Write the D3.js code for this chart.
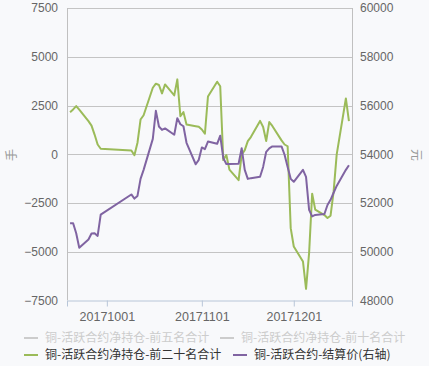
<!DOCTYPE html>
<html lang="zh">
<head>
  <meta charset="UTF-8">
  <title>铜-活跃合约净持仓</title>
  <script src="https://cdnjs.cloudflare.com/ajax/libs/d3/7.8.5/d3.min.js"></script>
  <style>
    body { margin: 0; background: #f8f9fb; }
    svg { display: block; font-family: "Noto Sans", "Noto Sans CJK SC", sans-serif; }
    .tick text { fill: #666; font-size: 12px; }
    .legend text { font-size: 12px; font-family: "Noto Sans CJK SC", sans-serif; }
  </style>
</head>
<body>
  <svg width="429" height="366"></svg>
  <script>
    // 交易日
    var dates = [
      '20170919','20170920','20170921','20170922','20170925','20170926','20170927','20170928','20170929',
      '20171009','20171010','20171011','20171012','20171013','20171016','20171017','20171018','20171019','20171020',
      '20171023','20171024','20171025','20171026','20171027','20171030','20171031',
      '20171101','20171102','20171103','20171106','20171107','20171108','20171109','20171110',
      '20171113','20171114','20171115','20171116','20171117','20171120','20171121','20171122','20171123','20171124',
      '20171127','20171128','20171129','20171130',
      '20171201','20171204','20171205','20171206','20171207','20171208','20171211','20171212','20171213','20171214',
      '20171215','20171218','20171219'
    ]

    // 前二十名净持仓 (手)
    var top20 = [
      2160, 2300, 2470, 2290, 1700, 1470, 1010, 500, 280,
      190, -50, 590, 1780, 2000, 3410, 3620, 3550, 3120, 3580,
      3020, 3840, 1950, 2160, 1530, 1440, 1410,
      1270, 1050, 2960, 3720, 3490, -300, -40, -790,
      -1330, -20, 210, 670, 880, 1710, 1400, 680, 1650, 1450,
      710, 500, 410, -3790,
      -4730, -5500, -6900, -5070, -2020, -2840, -3120, -3270, -3150, -1920,
      -20, 2860, 1700
    ]

    // 结算价 (元, 右轴)
    var settle = [
      51170, 51170, 50760, 50160, 50500, 50750, 50760, 50650, 51520,
      52350, 52180, 52290, 52990, 53360, 54630, 55780, 55140, 55000, 55060,
      54800, 55480, 55230, 55150, 54470, 53590, 53770,
      54280, 54210, 54520, 54430, 54760, 53840, 53600, 53600,
      53610, 54250, 53360, 52990, 53020, 53080, 53480, 54100, 54240, 54320,
      54320, 53980, 53480, 52990,
      52870, 53360, 53070, 51720, 51450, 51510, 51550, 51920, 52130, 52420,
      52700, 53360, 53550
    ]

    var leftTicks = [-7500, -5000, -2500, 0, 2500, 5000, 7500]
    var rightTicks = [48000, 50000, 52000, 54000, 56000, 58000, 60000]
    var xTicks = ['20171001', '20171101', '20171201']

    var legendItems = [
      { name: '铜-活跃合约净持仓-前五名合计', color: '#cccccc', text: '#cccccc' },
      { name: '铜-活跃合约净持仓-前十名合计', color: '#cccccc', text: '#cccccc' },
      { name: '铜-活跃合约净持仓-前二十名合计', color: '#9bbb59', text: '#333333' },
      { name: '铜-活跃合约-结算价(右轴)', color: '#8064a2', text: '#333333' }
    ]

    var parse = d3.timeParse('%Y%m%d')
    var svg = d3.select('svg')
    var plotL = 67, plotR = 352, plotT = 8, plotB = 300.5

    var x = d3.scaleTime()
      .domain([parse('20170918'), parse('20171220')])
      .range([plotL, plotR])
    var yL = d3.scaleLinear().domain([-7500, 7500]).range([plotB, plotT])
    var yR = d3.scaleLinear().domain([48000, 60000]).range([plotB, plotT])

    // 网格线
    svg.append('g')
      .selectAll('line')
      .data(leftTicks.slice(1))
      .join('line')
      .attr('x1', plotL).attr('x2', plotR)
      .attr('y1', d => Math.round(yL(d)) + 0.5).attr('y2', d => Math.round(yL(d)) + 0.5)
      .attr('stroke', '#c4c4c4')
      .attr('stroke-width', 1)

    // 左右轴线
    svg.append('line').attr('x1', plotL + 0.5).attr('x2', plotL + 0.5).attr('y1', plotT).attr('y2', plotB)
      .attr('stroke', '#c0c0c0')
    svg.append('line').attr('x1', plotR + 0.5).attr('x2', plotR + 0.5).attr('y1', plotT).attr('y2', plotB)
      .attr('stroke', '#c0c0c0')

    // 左轴
    var gL = svg.append('g')
      .attr('transform', `translate(${plotL},0)`)
      .call(d3.axisLeft(yL).tickValues(leftTicks).tickSize(0).tickPadding(9).tickFormat(d3.format('d')))
    gL.select('.domain').remove()

    // 右轴
    var gR = svg.append('g')
      .attr('transform', `translate(${plotR},0)`)
      .call(d3.axisRight(yR).tickValues(rightTicks).tickSize(0).tickPadding(8).tickFormat(d3.format('d')))
    gR.select('.domain').remove()

    // x 轴
    var gX = svg.append('g')
      .attr('transform', `translate(0,${plotB})`)
      .call(d3.axisBottom(x).tickValues(xTicks.map(parse)).tickSize(6).tickPadding(6)
        .tickFormat(d3.timeFormat('%Y%m%d')))
    gX.select('.domain').attr('stroke', '#b8c6d8')
    gX.selectAll('.tick line').attr('stroke', '#b8c6d8')
    gX.selectAll('.tick text').style('font-size', '12.5px')

    // 轴标题
    svg.append('text')
      .attr('transform', 'translate(16,155) rotate(-90)')
      .attr('text-anchor', 'middle')
      .attr('fill', '#999')
      .style('font-size', '12px')
      .style('font-family', '"Noto Sans CJK SC", sans-serif')
      .text('手')
    svg.append('text')
      .attr('transform', 'translate(412,155) rotate(90)')
      .attr('text-anchor', 'middle')
      .attr('fill', '#999')
      .style('font-size', '12px')
      .style('font-family', '"Noto Sans CJK SC", sans-serif')
      .text('元')

    // 折线
    var series1 = dates.map((d, i) => ({ date: parse(d), v: top20[i] }))
    var series2 = dates.map((d, i) => ({ date: parse(d), v: settle[i] }))

    svg.append('path')
      .datum(series1)
      .attr('fill', 'none')
      .attr('stroke', '#9bbb59')
      .attr('stroke-width', 2)
      .attr('stroke-linejoin', 'round')
      .attr('d', d3.line().x(d => x(d.date)).y(d => yL(d.v)))

    svg.append('path')
      .datum(series2)
      .attr('fill', 'none')
      .attr('stroke', '#8064a2')
      .attr('stroke-width', 2)
      .attr('stroke-linejoin', 'round')
      .attr('d', d3.line().x(d => x(d.date)).y(d => yR(d.v)))

    // 图例
    var legendPos = [[24, 338], [220, 338], [24, 355], [233, 355]]
    var lg = svg.append('g').attr('class', 'legend')
      .selectAll('g')
      .data(legendItems)
      .join('g')
      .attr('transform', (d, i) => `translate(${legendPos[i][0]},${legendPos[i][1]})`)
    lg.append('line')
      .attr('x1', 0).attr('x2', 14)
      .attr('stroke', d => d.color)
      .attr('stroke-width', 2)
    lg.append('text')
      .attr('x', 21)
      .attr('dy', '0.35em')
      .attr('fill', d => d.text)
      .text(d => d.name)
  </script>
</body>
</html>
